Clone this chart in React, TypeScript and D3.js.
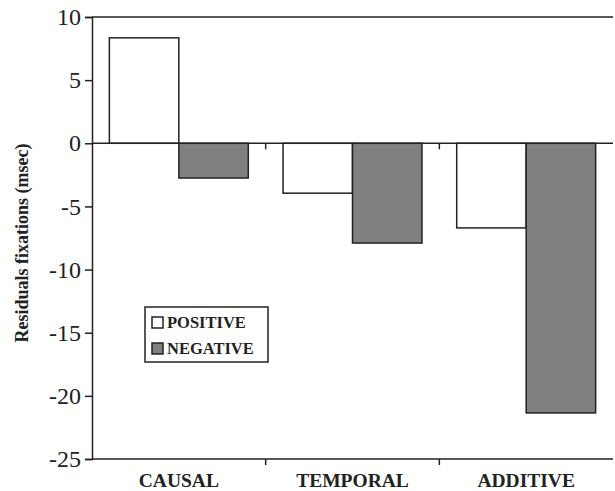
import React, { useEffect, useRef } from "react";
import * as d3 from "d3";

const categories = ["CAUSAL", "TEMPORAL", "ADDITIVE"];
const seriesNames = ["POSITIVE", "NEGATIVE"];
const positiveValues = [8.35, -3.95, -6.7];
const negativeValues = [-2.75, -7.9, -21.35];
const yTicks = [10, 5, 0, -5, -10, -15, -20, -25];

const W = 615;
const H = 491;

export default function App() {
	const ref = useRef<SVGSVGElement>(null);

	useEffect(() => {
		const svg = d3.select(ref.current);
		svg.selectAll("*").remove();

		const left = 92, right = 613, top = 17, bottom = 459;
		const font = "Liberation Serif";

		const y = d3.scaleLinear().domain([-25, 10]).range([bottom, top]);
		const x = d3.scaleBand().domain(categories).range([left, right]).paddingInner(0.2).paddingOuter(0.1);
		const xs = d3.scaleBand().domain(seriesNames).range([0, x.bandwidth()]);
		const colors: Record<string, string> = { POSITIVE: "#ffffff", NEGATIVE: "#808080" };
		const bandW = (right - left) / categories.length;

		const g = svg.append("g");

		// bars
		categories.forEach((c, i) => {
			const vals = [positiveValues[i], negativeValues[i]];
			seriesNames.forEach((s, j) => {
				const v = vals[j];
				g.append("rect")
					.attr("x", (x(c) as number) + (xs(s) as number))
					.attr("y", y(Math.max(0, v)))
					.attr("width", xs.bandwidth())
					.attr("height", Math.abs(y(v) - y(0)))
					.attr("fill", colors[s])
					.attr("stroke", "#222")
					.attr("stroke-width", 1.5);
			});
		});

		// frame: top line, bottom line, zero line
		[top, bottom, y(0)].forEach((ly) => {
			g.append("line").attr("x1", left).attr("x2", right).attr("y1", ly).attr("y2", ly)
				.attr("stroke", "#222").attr("stroke-width", 1.5);
		});

		// y axis
		const yAxis = g.append("g")
			.attr("transform", `translate(${left},0)`)
			.call(d3.axisLeft(y).tickValues(yTicks).tickSize(7).tickPadding(4).tickFormat((d) => String(d)));
		yAxis.select(".domain").attr("stroke", "#222").attr("stroke-width", 1.5);
		yAxis.selectAll(".tick line").attr("stroke", "#222").attr("stroke-width", 1.5);
		yAxis.selectAll(".tick text")
			.attr("font-family", font)
			.attr("font-size", 24)
			.attr("fill", "#222");

		// category boundary ticks
		[1, 2].forEach((k) => {
			const tx = left + bandW * k;
			g.append("line").attr("x1", tx).attr("x2", tx).attr("y1", bottom).attr("y2", bottom + 6)
				.attr("stroke", "#222").attr("stroke-width", 1.5);
			g.append("line").attr("x1", tx).attr("x2", tx).attr("y1", y(0)).attr("y2", y(0) + 6)
				.attr("stroke", "#222").attr("stroke-width", 1.5);
		});

		// category labels
		categories.forEach((c, i) => {
			g.append("text")
				.attr("x", left + bandW * (i + 0.5))
				.attr("y", 487)
				.attr("text-anchor", "middle")
				.attr("font-family", font)
				.attr("font-weight", "bold")
				.attr("font-size", 19.5)
				.attr("fill", "#222")
				.text(c);
		});

		// y title
		g.append("text")
			.attr("transform", `translate(28,${(top + bottom) / 2 + 5}) rotate(-90)`)
			.attr("text-anchor", "middle")
			.attr("font-family", font)
			.attr("font-weight", "bold")
			.attr("font-size", 18)
			.attr("fill", "#222")
			.text("Residuals fixations (msec)");

		// legend
		const lg = g.append("g").attr("transform", "translate(145,307)");
		lg.append("rect").attr("width", 123).attr("height", 55)
			.attr("fill", "#fff").attr("stroke", "#222").attr("stroke-width", 1.5);
		seriesNames.forEach((s, j) => {
			const row = lg.append("g").attr("transform", `translate(0,${21 + j * 26})`);
			row.append("rect").attr("x", 7).attr("y", -11).attr("width", 11).attr("height", 11)
				.attr("fill", colors[s]).attr("stroke", "#222").attr("stroke-width", 1.5);
			row.append("text").attr("x", 22).attr("y", 0)
				.attr("font-family", font)
				.attr("font-weight", "bold")
				.attr("font-size", 16.5)
				.attr("fill", "#222")
				.text(s);
		});
	}, []);

	return (
		<svg ref={ref} width={W} height={H}
			style={{ position: "absolute", left: 0, top: 0, background: "#fff" }} />
	);
}
